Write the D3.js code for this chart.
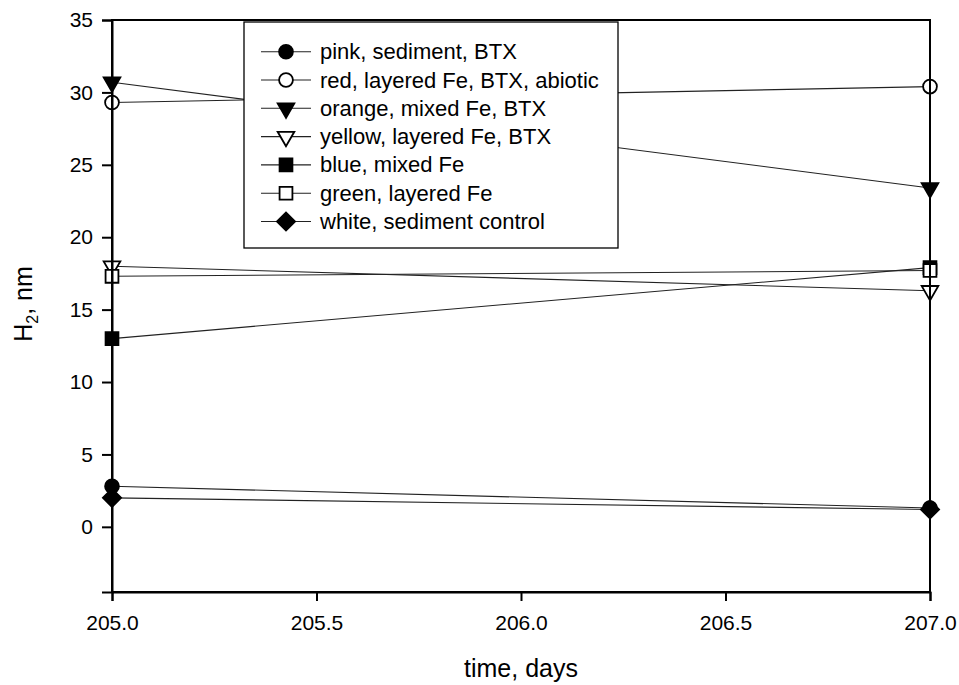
<!DOCTYPE html>
<html>
<head>
<meta charset="utf-8">
<script src="https://cdn.jsdelivr.net/npm/d3@7"></script>
<style>
    body { margin: 0; background: #fff; }
    text { font-family: "Liberation Sans", Arial, sans-serif; fill: #000; }
</style>
</head>
<body>
<div id="chart"></div>
<script>
const days = [205.0, 207.0];
const seriesNames = [
    "pink, sediment, BTX",
    "red, layered Fe, BTX, abiotic",
    "orange, mixed Fe, BTX",
    "yellow, layered Fe, BTX",
    "blue, mixed Fe",
    "green, layered Fe",
    "white, sediment control"
];
const pinkValues = [2.8, 1.3];
const redValues = [29.3, 30.4];
const orangeValues = [30.7, 23.4];
const yellowValues = [18.0, 16.3];
const blueValues = [13.0, 17.9];
const greenValues = [17.3, 17.7];
const whiteValues = [2.0, 1.2];
const xTicks = [205.0, 205.5, 206.0, 206.5, 207.0];
const yTicks = [0, 5, 10, 15, 20, 25, 30, 35];

// marker per series: shape, filled?
const markers = [
    {shape: "circle", filled: true},
    {shape: "circle", filled: false},
    {shape: "triangle", filled: true},
    {shape: "triangle", filled: false},
    {shape: "square", filled: true},
    {shape: "square", filled: false},
    {shape: "diamond", filled: true}
];

const allValues = [pinkValues, redValues, orangeValues, yellowValues, blueValues, greenValues, whiteValues];
const series = seriesNames.map((name, i) => ({
    name: name,
    marker: markers[i],
    points: days.map((d, j) => ({x: d, y: allValues[i][j]}))
}));

const xAccessor = d => d.x;
const yAccessor = d => d.y;

let dimensions = {
    width: 959,
    height: 685,
    margin: {left: 112, right: 29, top: 20, bottom: 93}
};
dimensions.boundedWidth = dimensions.width - dimensions.margin.left - dimensions.margin.right;
dimensions.boundedHeight = dimensions.height - dimensions.margin.top - dimensions.margin.bottom;

const wrapper = d3.select("#chart").append("svg")
    .attr("width", dimensions.width)
    .attr("height", dimensions.height);

const bounds = wrapper.append("g")
    .attr("transform", `translate(${dimensions.margin.left},${dimensions.margin.top})`);

const xScaler = d3.scaleLinear()
    .domain([205, 207])
    .range([0, dimensions.boundedWidth]);

const yScaler = d3.scaleLinear()
    .domain([-4.5, 35])
    .range([dimensions.boundedHeight, 0]);

function symbolPath(marker) {
    if (marker.shape == "circle") return d3.symbol(d3.symbolCircle, 150)();
    if (marker.shape == "triangle") return d3.symbol(d3.symbolTriangle, 120)();
    return d3.symbol(d3.symbolSquare, 165)();
}
function symbolRotate(marker) {
    if (marker.shape == "triangle") return " rotate(180)";
    if (marker.shape == "diamond") return " rotate(45)";
    return "";
}

// data lines
const lineGen = d3.line()
    .x(d => xScaler(xAccessor(d)))
    .y(d => yScaler(yAccessor(d)));

const seriesGroups = bounds.append("g").selectAll("g")
    .data(series)
    .enter()
    .append("g");

seriesGroups.append("path")
    .attr("d", d => lineGen(d.points))
    .attr("fill", "none")
    .attr("stroke", "#222")
    .attr("stroke-width", 1.1);

// frame (top and right)
bounds.append("rect")
    .attr("x", 0)
    .attr("y", 0)
    .attr("width", dimensions.boundedWidth)
    .attr("height", dimensions.boundedHeight)
    .attr("fill", "none")
    .attr("stroke", "black")
    .attr("stroke-width", 2);

seriesGroups.each(function(s) {
    d3.select(this).selectAll(".marker")
        .data(s.points)
        .enter()
        .append("path")
        .attr("class", "marker")
        .attr("d", symbolPath(s.marker))
        .attr("transform", d => `translate(${xScaler(xAccessor(d))},${yScaler(yAccessor(d))})` + symbolRotate(s.marker))
        .attr("fill", s.marker.filled ? "black" : "white")
        .attr("stroke", "black")
        .attr("stroke-width", 1.8);
});

// axes
const xAxisGen = d3.axisBottom(xScaler)
    .tickValues(xTicks)
    .tickFormat(d3.format(".1f"))
    .tickSize(9)
    .tickPadding(14);
const xAxis = bounds.append("g")
    .attr("transform", `translate(0,${dimensions.boundedHeight})`)
    .call(xAxisGen);

const yAxisGen = d3.axisLeft(yScaler)
    .tickValues(yTicks)
    .tickSize(10)
    .tickPadding(9);
const yAxis = bounds.append("g")
    .call(yAxisGen);

[xAxis, yAxis].forEach(ax => {
    ax.select(".domain").attr("stroke-width", 2);
    ax.selectAll(".tick line").attr("stroke-width", 2);
    ax.selectAll(".tick text")
        .attr("font-size", "21px")
        .attr("font-family", "Liberation Sans, Arial, sans-serif")
        .attr("fill", "black");
});

// axis titles
wrapper.append("text")
    .attr("x", dimensions.margin.left + dimensions.boundedWidth / 2)
    .attr("y", 677)
    .attr("text-anchor", "middle")
    .attr("font-size", "25px")
    .text("time, days");

const yTitle = wrapper.append("text")
    .attr("transform", `translate(32,${304}) rotate(-90)`)
    .attr("text-anchor", "middle")
    .attr("font-size", "25px");
yTitle.append("tspan").text("H");
yTitle.append("tspan").attr("font-size", "16px").attr("dy", 6).text("2");
yTitle.append("tspan").attr("dy", -6).text(", nm");

// legend
const legend = wrapper.append("g")
    .attr("transform", "translate(244,22)");

legend.append("rect")
    .attr("width", 374)
    .attr("height", 226)
    .attr("fill", "white")
    .attr("stroke", "black")
    .attr("stroke-width", 1.3);

const rowHeight = 28.3;
const legendRows = legend.selectAll(".row")
    .data(series)
    .enter()
    .append("g")
    .attr("class", "row")
    .attr("transform", (d, i) => `translate(0,${29.7 + i * rowHeight})`);

legendRows.append("line")
    .attr("x1", 17)
    .attr("x2", 67)
    .attr("stroke", "#222")
    .attr("stroke-width", 1.1);

legendRows.append("path")
    .attr("d", d => symbolPath(d.marker))
    .attr("transform", d => "translate(42,0)" + symbolRotate(d.marker))
    .attr("fill", d => d.marker.filled ? "black" : "white")
    .attr("stroke", "black")
    .attr("stroke-width", 1.8);

legendRows.append("text")
    .attr("x", 76)
    .attr("y", 7.5)
    .attr("font-size", "22px")
    .text(d => d.name);
</script>
</body>
</html>
